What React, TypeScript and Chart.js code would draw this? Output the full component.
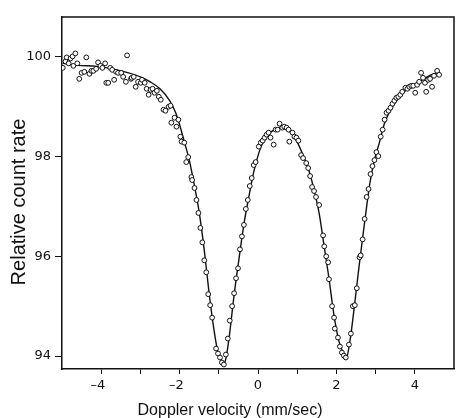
import React, { useEffect, useRef } from 'react';
import { Chart, registerables } from 'chart.js';

Chart.register(...registerables);

// Measured points (velocity in mm/sec, relative count rate in %)
const pointVelocity = [
  -4.98, -4.91, -4.88, -4.83, -4.78, -4.73, -4.71, -4.66, -4.61, -4.56, -4.5, -4.43, -4.38, -4.3, -4.25, -4.2,
  -4.13, -4.08, -4.02, -3.97, -3.9, -3.87, -3.82, -3.77, -3.72, -3.67, -3.62, -3.57, -3.49, -3.44, -3.37, -3.34,
  -3.24, -3.22, -3.17, -3.12, -3.06, -2.99, -2.96, -2.89, -2.84, -2.79, -2.74, -2.69, -2.64, -2.58, -2.53, -2.48,
  -2.41, -2.36, -2.28, -2.23, -2.21, -2.13, -2.08, -2.03, -1.98, -1.95, -1.88, -1.83, -1.78, -1.7, -1.68, -1.62,
  -1.57, -1.52, -1.47, -1.42, -1.37, -1.32, -1.27, -1.22, -1.17, -1.07, -1.02, -0.97, -0.92, -0.87, -0.82, -0.77,
  -0.72, -0.66, -0.61, -0.56, -0.51, -0.46, -0.41, -0.36, -0.31, -0.26, -0.21, -0.16, -0.11, -0.06, 0.02, 0.07,
  0.12, 0.17, 0.22, 0.27, 0.32, 0.4, 0.45, 0.5, 0.55, 0.62, 0.67, 0.73, 0.78, 0.8, 0.88, 0.93,
  0.98, 1.03, 1.1, 1.15, 1.23, 1.28, 1.33, 1.38, 1.43, 1.48, 1.56, 1.66, 1.69, 1.74, 1.79, 1.81,
  1.89, 1.94, 1.96, 2.04, 2.09, 2.14, 2.19, 2.24, 2.32, 2.37, 2.42, 2.47, 2.52, 2.59, 2.62, 2.67,
  2.72, 2.77, 2.82, 2.87, 2.92, 2.97, 3.02, 3.07, 3.13, 3.18, 3.23, 3.28, 3.33, 3.38, 3.43, 3.48,
  3.53, 3.58, 3.63, 3.68, 3.76, 3.81, 3.86, 3.91, 3.96, 4.01, 4.06, 4.11, 4.16, 4.21, 4.26, 4.29,
  4.34, 4.39, 4.44, 4.49, 4.57, 4.62,
];
const pointCount = [
  99.78, 99.91, 99.99, 99.87, 99.97, 100.01, 99.82, 100.07, 99.87, 99.56, 99.68, 99.7, 99.99, 99.66, 99.72, 99.72,
  99.76, 99.89, 99.82, 99.78, 99.87, 99.48, 99.48, 99.78, 99.74, 99.54, 99.7, 99.68, 99.68, 99.6, 99.5, 100.03,
  99.56, 99.58, 99.6, 99.4, 99.5, 99.48, 99.54, 99.48, 99.36, 99.24, 99.34, 99.36, 99.28, 99.32, 99.2, 99.14,
  98.94, 98.92, 99.0, 99.02, 98.68, 98.78, 98.6, 98.74, 98.4, 98.3, 98.28, 97.89, 97.99, 97.59, 97.53, 97.37,
  97.13, 96.87, 96.57, 96.28, 95.92, 95.68, 95.24, 95.02, 94.77, 94.15, 94.05, 93.97, 93.87, 93.83, 94.03, 94.35,
  94.71, 95.0, 95.26, 95.56, 95.76, 96.14, 96.4, 96.63, 96.95, 97.13, 97.41, 97.57, 97.83, 97.89, 98.2, 98.28,
  98.32, 98.38, 98.44, 98.48, 98.38, 98.24, 98.54, 98.54, 98.66, 98.58, 98.6, 98.58, 98.54, 98.3, 98.48, 98.4,
  98.38, 98.32, 98.03, 97.97, 97.87, 97.77, 97.61, 97.39, 97.31, 97.19, 97.03, 96.42, 96.2, 96.0, 95.88, 95.54,
  95.0, 94.77, 94.55, 94.37, 94.19, 94.07, 94.01, 93.97, 94.23, 94.45, 95.0, 95.02, 95.36, 95.98, 96.02, 96.34,
  96.75, 97.19, 97.35, 97.65, 97.81, 97.93, 98.09, 98.01, 98.4, 98.54, 98.74, 98.88, 98.92, 98.98, 99.06, 99.12,
  99.18, 99.2, 99.24, 99.3, 99.38, 99.36, 99.4, 99.42, 99.42, 99.28, 99.44, 99.5, 99.68, 99.58, 99.48, 99.3,
  99.54, 99.56, 99.4, 99.62, 99.72, 99.64,
];

// Fitted curve
const fitVelocity = [
  -4.98, -4.6, -4.1, -3.6, -3.3, -3.0, -2.75, -2.5, -2.25, -2.1, -2.0, -1.88, -1.75, -1.63, -1.5, -1.37,
  -1.25, -1.12, -1.02, -0.94, -0.88, -0.82, -0.74, -0.61, -0.49, -0.36, -0.23, -0.11, 0.02, 0.14, 0.27, 0.4,
  0.55, 0.67, 0.8, 0.93, 1.05, 1.18, 1.31, 1.43, 1.56, 1.68, 1.81, 1.94, 2.06, 2.17, 2.25, 2.34,
  2.47, 2.59, 2.72, 2.85, 2.97, 3.1, 3.22, 3.35, 3.48, 3.61, 3.73, 3.86, 3.98, 4.11, 4.24, 4.36,
  4.49, 4.62,
];
const fitCount = [
  99.87, 99.83, 99.81, 99.74, 99.68, 99.6, 99.5, 99.36, 99.12, 98.88, 98.64, 98.3, 97.92, 97.45, 96.88, 96.12,
  95.28, 94.51, 94.07, 93.91, 93.83, 93.95, 94.35, 95.22, 95.92, 96.64, 97.21, 97.69, 98.07, 98.31, 98.45, 98.53,
  98.58, 98.57, 98.51, 98.39, 98.21, 97.97, 97.69, 97.33, 96.86, 96.24, 95.56, 94.81, 94.31, 94.07, 93.95, 94.27,
  95.07, 95.88, 96.68, 97.45, 97.93, 98.29, 98.65, 98.89, 99.06, 99.2, 99.3, 99.38, 99.44, 99.5, 99.56, 99.62,
  99.66, 99.7,
];

const xTickPositions = [-4, -3, -2, -1, 0, 1, 2, 3, 4];
const xLabelledTicks = [-4, -2, 0, 2, 4];
const yTickValues = [94, 96, 98, 100];
const xTitle = 'Doppler velocity (mm/sec)';
const yTitle = 'Relative count rate';

const W = 459;
const H = 418;
const INK = '#111111';

const framePlugin = {
  id: 'frameAndTitles',
  afterDraw(chart: any) {
    const { ctx, chartArea: a } = chart;
    ctx.save();
    ctx.strokeStyle = INK;
    ctx.lineWidth = 1.5;
    ctx.beginPath();
    ctx.moveTo(a.left, a.top);
    ctx.lineTo(a.right, a.top);
    ctx.lineTo(a.right, a.bottom);
    ctx.stroke();

    ctx.fillStyle = INK;
    ctx.textAlign = 'center';
    ctx.textBaseline = 'alphabetic';
    ctx.font = '16px "Liberation Sans", Arial, sans-serif';
    ctx.fillText(xTitle, 230, 415);

    ctx.translate(25, 202);
    ctx.rotate(-Math.PI / 2);
    ctx.font = '20px "Liberation Sans", Arial, sans-serif';
    ctx.fillText(yTitle, 0, 0);
    ctx.restore();
  },
};

export default function App() {
  const canvasRef = useRef<HTMLCanvasElement | null>(null);

  useEffect(() => {
    const canvas = canvasRef.current;
    if (!canvas) return;

    const points = pointVelocity.map((v, i) => ({ x: v, y: pointCount[i] }));
    const fit = fitVelocity.map((v, i) => ({ x: v, y: fitCount[i] }));
    const tickFont = { family: '"DejaVu Sans", sans-serif', size: 13 };

    const chart = new Chart(canvas, {
      type: 'scatter',
      data: {
        datasets: [
          {
            label: 'data',
            data: points,
            showLine: false,
            pointStyle: 'circle',
            pointRadius: 2.4,
            pointBorderWidth: 1,
            pointBorderColor: INK,
            pointBackgroundColor: '#ffffff',
            order: 1,
          },
          {
            label: 'fit',
            data: fit,
            showLine: true,
            pointRadius: 0,
            borderColor: INK,
            borderWidth: 1.4,
            cubicInterpolationMode: 'monotone',
            fill: false,
            order: 2,
          },
        ],
      },
      options: {
        animation: false,
        responsive: false,
        devicePixelRatio: 1,
        layout: { padding: { top: 17, right: 2, left: 0, bottom: 0 } },
        plugins: {
          legend: { display: false },
          tooltip: { enabled: false },
          title: { display: false },
        },
        scales: {
          x: {
            type: 'linear',
            min: -5,
            max: 5,
            afterBuildTicks: (scale: any) => {
              scale.ticks = xTickPositions.map((v) => ({ value: v }));
            },
            afterFit: (scale: any) => {
              scale.height = 49;
            },
            ticks: {
              autoSkip: false,
              maxRotation: 0,
              padding: 4,
              color: INK,
              font: tickFont,
              callback: (value: any) => {
                const v = Number(value);
                if (!xLabelledTicks.includes(v)) return '';
                return v < 0 ? '\u2013' + Math.abs(v) + '\u2002' : String(v);
              },
            },
            grid: {
              display: true,
              drawOnChartArea: false,
              drawTicks: true,
              tickLength: 5,
              color: INK,
              lineWidth: 1,
            },
            border: { display: true, color: INK, width: 1.5 },
            title: { display: false },
          },
          y: {
            type: 'linear',
            min: 93.74,
            max: 100.8,
            afterBuildTicks: (scale: any) => {
              scale.ticks = yTickValues.map((v) => ({ value: v }));
            },
            afterFit: (scale: any) => {
              scale.width = 62;
            },
            ticks: {
              autoSkip: false,
              padding: 4,
              color: INK,
              font: tickFont,
              callback: (value: any) => String(value),
            },
            grid: {
              display: true,
              drawOnChartArea: false,
              drawTicks: true,
              tickLength: 7,
              color: INK,
              lineWidth: 1,
            },
            border: { display: true, color: INK, width: 1.5 },
            title: { display: false },
          },
        },
      },
      plugins: [framePlugin],
    } as any);

    return () => {
      chart.destroy();
    };
  }, []);

  return (
    <div style={{ position: 'absolute', left: 0, top: 0, width: W, height: H, background: '#ffffff' }}>
      <canvas ref={canvasRef} width={W} height={H} style={{ display: 'block', width: W, height: H }} />
    </div>
  );
}
